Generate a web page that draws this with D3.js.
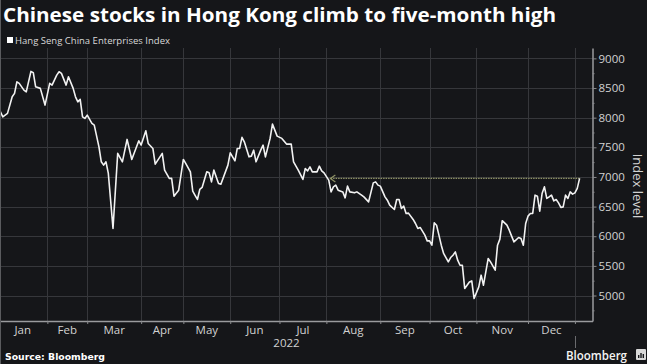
<!DOCTYPE html>
<html>
<head>
<meta charset="utf-8">
<script src="https://cdn.jsdelivr.net/npm/d3@7/dist/d3.min.js"></script>
<style>
  html, body { margin: 0; padding: 0; background: #151619; }
  svg { display: block; }
</style>
</head>
<body>
<svg id="chart" width="647" height="364"></svg>
<script>
// ---- data ----
const title = "Chinese stocks in Hong Kong climb to five-month high";
const seriesName = "Hang Seng China Enterprises Index";
const months = ["Jan", "Feb", "Mar", "Apr", "May", "Jun", "Jul", "Aug", "Sep", "Oct", "Nov", "Dec"];
// Hong Kong trading days per month in 2022 (the x axis runs on trading days)
const monthTradingDays = [21, 17, 23, 18, 20, 21, 20, 23, 21, 20, 22, 20];
const yearLabel = "2022";
const yTicks = [5000, 5500, 6000, 6500, 7000, 7500, 8000, 8500, 9000];
const yMinorTicks = [4750, 5250, 5750, 6250, 6750, 7250, 7750, 8250, 8750];

// trading day number (0 = first session of 2022) and index close
const tradingDay = [0, 2, 4, 6, 7, 8, 9, 11, 12, 14, 15, 16, 18, 20, 22, 23, 25, 26, 27, 29, 30, 32, 33, 34, 35, 36, 37, 38, 40, 41,
  43, 44, 45, 46, 47, 49, 51, 53, 55, 57, 60, 61, 63, 64, 66, 67, 70, 71, 73, 74, 75, 77, 79, 80, 82, 83, 84, 85, 86, 87,
  89, 90, 91, 92, 94, 95, 98, 99, 101, 102, 103, 104, 105, 107, 108, 109, 110, 112, 113, 114, 116, 117, 119, 121, 123, 125, 126, 128, 130, 131,
  132, 133, 134, 136, 137, 138, 139, 141, 142, 143, 144, 145, 147, 148, 149, 150, 152, 153, 155, 156, 158, 160, 161, 162, 163, 165, 166, 167, 169, 170,
  171, 172, 173, 174, 175, 177, 178, 179, 180, 182, 183, 184, 185, 186, 187, 188, 189, 190, 191, 192, 193, 194, 195, 196, 197, 198, 199, 200, 201, 202,
  203, 205, 206, 207, 209, 210, 212, 213, 214, 215, 217, 218, 219, 220, 222, 223, 224, 225, 226, 227, 228, 229, 230, 231, 232, 233, 234, 235, 236, 237,
  238, 239, 240, 241, 242, 243, 244, 245, 246, 247, 248];
const level = [8180, 8014, 8072, 8352, 8409, 8605, 8578, 8465, 8436, 8780, 8760, 8521, 8494, 8212, 8578, 8549, 8718, 8774, 8747, 8549, 8689, 8494, 8352, 8267, 8308, 8014, 7987, 8043, 7903, 7874,
  7508, 7255, 7199, 7255, 7059, 6131, 7397, 7255, 7633, 7295, 7609, 7537, 7778, 7565, 7481, 7216, 7397, 7115, 6975, 6975, 6676, 6777, 7295, 7228, 7086, 6760, 6690, 6620, 6789, 6823,
  7086, 7069, 6917, 7115, 6890, 6878, 7199, 7407, 7272, 7481, 7481, 7667, 7592, 7339, 7351, 7452, 7255, 7452, 7537, 7339, 7650, 7891, 7689, 7650, 7554, 7554, 7255, 7115, 6958, 7143,
  7103, 7170, 7086, 7086, 7182, 7103, 7069, 6946, 6748, 6833, 6862, 6777, 6748, 6647, 6845, 6748, 6732, 6748, 6693, 6664, 6580, 6900, 6917, 6862, 6845, 6664, 6608, 6524, 6451, 6620,
  6620, 6468, 6507, 6384, 6390, 6283, 6215, 6131, 6148, 6018, 5921, 5921, 5849, 6225, 6186, 6018, 5849, 5709, 5640, 5567, 5641, 5680, 5736, 5596, 5511, 5511, 5118, 5174, 5229, 5246,
  4949, 5145, 5343, 5174, 5624, 5567, 5427, 5849, 5951, 6262, 6186, 6102, 6001, 5905, 5979, 5962, 5849, 6215, 6339, 6384, 6384, 6693, 6676, 6424, 6721, 6833, 6637, 6664, 6693, 6597,
  6620, 6563, 6485, 6495, 6693, 6637, 6748, 6710, 6732, 6806, 6975];

// five-month-high marker: from the latest close back to early August
const highMarkDays = [248, 141.7];
const highMarkLevel = 6975;

const sourceText = "Source: Bloomberg";

// ---- layout ----
const W = 647, H = 364;
const plot = { left: 0, right: 592.5, top: 48, bottom: 321 };

const svg = d3.select("#chart");
svg.append("rect").attr("width", W).attr("height", H).attr("fill", "#151619");

const x = d3.scaleLinear().domain([0.8, 253.5]).range([plot.left, plot.right]);
const y = d3.scaleLinear().domain([4570, 9175]).range([plot.bottom, plot.top]);

// month boundaries from cumulative trading-day counts
const monthStarts = [0];
monthTradingDays.forEach(n => monthStarts.push(monthStarts[monthStarts.length - 1] + n));

// ---- grid ----
const grid = svg.append("g").attr("stroke", "#36373b").attr("stroke-width", 1);
yTicks.forEach(t => {
  grid.append("line")
    .attr("x1", plot.left).attr("x2", plot.right)
    .attr("y1", Math.round(y(t)) + 0.5).attr("y2", Math.round(y(t)) + 0.5);
});
monthStarts.slice(1).forEach(d => {
  grid.append("line")
    .attr("x1", Math.round(x(d)) + 0.5).attr("x2", Math.round(x(d)) + 0.5)
    .attr("y1", plot.top).attr("y2", plot.bottom);
});

// ---- axes ----
const yAxis = svg.append("g")
  .attr("transform", `translate(${plot.right},0)`)
  .call(d3.axisRight(y).tickValues(yTicks).tickSize(4).tickSizeOuter(0).tickPadding(2).tickFormat(d3.format("d")));
svg.append("g")
  .attr("transform", `translate(${plot.right},0)`)
  .call(d3.axisRight(y).tickValues(yMinorTicks).tickSize(2).tickSizeOuter(0).tickFormat(""))
  .call(g => g.select(".domain").remove());

svg.append("g")
  .attr("transform", `translate(0,${plot.bottom})`)
  .call(d3.axisBottom(x).tickValues(monthStarts.slice(1)).tickSize(3).tickSizeOuter(0).tickFormat(""));

svg.selectAll(".domain").attr("stroke", "#9a9b9e").attr("stroke-width", 1.5);
svg.selectAll(".tick line").attr("stroke", "#8a8b8e");
yAxis.selectAll("text")
  .attr("fill", "#d2d2d2")
  .style("font-family", "'Open Sans', sans-serif")
  .style("font-size", "11.5px");

// month labels centred in each month
svg.append("g").selectAll("text")
  .data(months)
  .join("text")
  .attr("x", (d, i) => (x(monthStarts[i]) + x(monthStarts[i + 1])) / 2)
  .attr("y", 334)
  .attr("text-anchor", "middle")
  .attr("fill", "#d2d2d2")
  .style("font-family", "'Open Sans', sans-serif")
  .style("font-size", "11.5px")
  .text(d => d);

svg.append("text")
  .attr("x", x((monthStarts[0] + monthStarts[12]) / 2))
  .attr("y", 347)
  .attr("text-anchor", "middle")
  .attr("fill", "#d2d2d2")
  .style("font-family", "'Open Sans', sans-serif")
  .style("font-size", "11.5px")
  .text(yearLabel);

// year-end marker below the axis
svg.append("line")
  .attr("x1", Math.round(x(monthStarts[12])) + 0.5).attr("x2", Math.round(x(monthStarts[12])) + 0.5)
  .attr("y1", 336).attr("y2", 348)
  .attr("stroke", "#6a6b6e");

svg.append("text")
  .attr("transform", `translate(633,186) rotate(90)`)
  .attr("text-anchor", "middle")
  .attr("fill", "#d2d2d2")
  .style("font-family", "'Open Sans', sans-serif")
  .style("font-size", "13px")
  .text("Index level");

// ---- series ----
const points = tradingDay.map((d, i) => ({ day: d, level: level[i] }));

svg.append("clipPath").attr("id", "clip")
  .append("rect").attr("x", plot.left).attr("y", plot.top)
  .attr("width", plot.right - plot.left).attr("height", plot.bottom - plot.top);

// dotted five-month-high line with a chevron at its left end
const markY = y(highMarkLevel);
const markLeft = x(highMarkDays[1]);
svg.append("line")
  .attr("x1", x(highMarkDays[0])).attr("x2", markLeft)
  .attr("y1", markY).attr("y2", markY)
  .attr("stroke", "#8e9265")
  .attr("stroke-width", 1.2)
  .attr("stroke-dasharray", "1.5,1");
svg.append("path")
  .attr("d", `M${markLeft + 5},${markY - 3.5}L${markLeft},${markY}L${markLeft + 5},${markY + 3.5}`)
  .attr("fill", "none")
  .attr("stroke", "#8e9265")
  .attr("stroke-width", 1.2);

const line = d3.line().x(d => x(d.day)).y(d => y(d.level));
svg.append("path")
  .datum(points)
  .attr("clip-path", "url(#clip)")
  .attr("d", line)
  .attr("fill", "none")
  .attr("stroke", "#f2f2f2")
  .attr("stroke-width", 1.6)
  .attr("stroke-linejoin", "round");

// ---- titles ----
svg.append("text")
  .attr("x", 3).attr("y", 22)
  .attr("fill", "#ffffff")
  .style("font-family", "'Open Sans', sans-serif")
  .style("font-weight", "bold")
  .style("font-size", "20px")
  .attr("textLength", 553)
  .attr("lengthAdjust", "spacingAndGlyphs")
  .text(title);

svg.append("rect").attr("x", 7).attr("y", 37).attr("width", 6).attr("height", 6).attr("fill", "#ffffff");
svg.append("text")
  .attr("x", 15).attr("y", 43.5)
  .attr("fill", "#d8d8d8")
  .style("font-family", "'Open Sans', sans-serif")
  .style("font-size", "9.5px")
  .attr("textLength", 155)
  .attr("lengthAdjust", "spacingAndGlyphs")
  .text(seriesName);

svg.append("text")
  .attr("x", 5).attr("y", 360)
  .attr("fill", "#ffffff")
  .style("font-family", "'DejaVu Sans', sans-serif")
  .style("font-weight", "bold")
  .style("font-size", "9.5px")
  .attr("textLength", 100)
  .attr("lengthAdjust", "spacingAndGlyphs")
  .text(sourceText);

// Bloomberg wordmark
svg.append("text")
  .attr("x", 566).attr("y", 360)
  .attr("fill", "#f4f4f4")
  .style("font-family", "'Open Sans', sans-serif")
  .style("font-weight", "600")
  .style("font-size", "13px")
  .attr("textLength", 61)
  .attr("lengthAdjust", "spacingAndGlyphs")
  .text("Bloomberg");
svg.append("rect").attr("x", 636).attr("y", 349).attr("width", 10).attr("height", 11).attr("rx", 1).attr("fill", "#d8d8d8");
svg.append("g").attr("fill", "#151619").selectAll("rect")
  .data([3, 5, 4])
  .join("rect")
  .attr("x", (d, i) => 638 + i * 2.3).attr("y", d => 358 - d)
  .attr("width", 1.4).attr("height", d => d);

// left border of the graphic
svg.append("line").attr("x1", 0.5).attr("x2", 0.5).attr("y1", 0).attr("y2", H).attr("stroke", "#5a5b5e");
</script>
</body>
</html>
